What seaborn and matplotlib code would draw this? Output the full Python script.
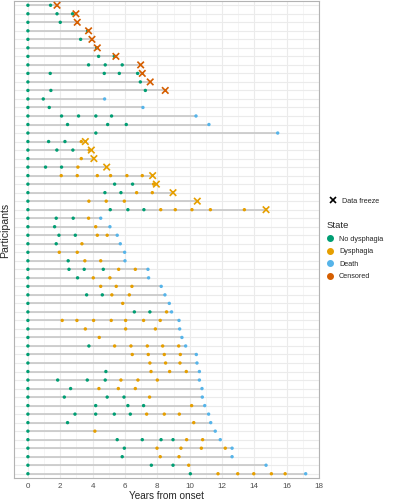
import pandas as pd
import matplotlib.pyplot as plt
import seaborn as sns
from matplotlib.lines import Line2D

# Visit times (years from onset) for each participant, top to bottom
times = [
    [0, 1.4], [0, 1.8, 2.76], [0, 2.0], [0, 3.69], [0, 3.26], [0, 4.25],
    [0, 4.37, 5.34], [0, 3.75, 4.78, 5.83], [0, 1.38, 4.72, 5.65, 6.78],
    [0, 6.95], [0, 1.42, 7.26], [0, 0.95, 4.74], [0, 1.32, 7.11],
    [0, 2.08, 3.13, 4.2, 5.17, 10.39], [0, 2.45, 4.93, 6.08, 11.19],
    [0, 4.2, 15.44], [0, 1.28, 2.29, 3.30], [0, 1.79, 2.78, 3.79], [0, 3.30],
    [0, 1.09, 2.08, 3.09], [0, 2.06, 3.05, 4.29, 5.11, 6.12, 7.07],
    [0, 5.36, 6.47, 7.77], [0, 4.76, 5.75, 6.72, 7.69], [0, 3.77, 4.84, 5.96],
    [0, 5.09, 6.18, 7.17, 8.21, 9.11, 10.14, 11.28, 13.38],
    [0, 1.75, 2.80, 3.75, 4.5], [0, 1.65, 4.19, 5.07],
    [0, 1.92, 2.93, 4.29, 4.9, 5.52], [0, 1.75, 3.34, 5.71],
    [0, 1.94, 3.05, 5.98], [0, 2.49, 3.52, 4.5, 6.0],
    [0, 2.54, 3.48, 4.66, 5.61, 6.64, 7.42], [0, 3.07, 4.04, 5.07, 7.46],
    [0, 4.5, 5.46, 6.43, 8.24], [0, 3.63, 4.6, 5.19, 6.27, 8.47],
    [0, 5.86, 8.74], [0, 6.58, 7.54, 8.57, 8.88],
    [0, 2.12, 3.03, 4.06, 5.15, 6.04, 7.15, 8.18, 9.34],
    [0, 3.55, 6.04, 7.88, 9.38], [0, 4.41, 9.52],
    [0, 3.77, 5.36, 6.37, 7.38, 8.33, 9.32, 9.75],
    [0, 6.45, 7.44, 8.43, 9.42, 10.41], [0, 7.54, 8.51, 9.4, 10.45],
    [0, 4.82, 7.61, 8.76, 9.79, 10.6],
    [0, 1.84, 3.67, 4.78, 5.75, 6.8, 8.0, 10.6],
    [0, 2.64, 4.39, 5.59, 6.64, 10.76], [0, 2.25, 4.9, 5.94, 7.52, 10.78],
    [0, 4.19, 6.18, 7.15, 10.12, 10.93],
    [0, 2.91, 4.19, 5.34, 6.33, 7.34, 8.43, 9.36, 11.17],
    [0, 2.45, 10.25, 11.3], [0, 4.14, 11.58],
    [0, 5.52, 7.07, 8.23, 8.97, 9.81, 10.8, 11.89],
    [0, 5.96, 7.98, 9.46, 10.72, 12.2, 12.62], [0, 5.83, 8.18, 9.34, 12.62],
    [0, 7.63, 8.97, 9.94, 14.72],
    [0, 10.04, 11.75, 12.97, 13.96, 15.05, 15.9, 17.17],
]

# State at each visit: N = no dysphagia, D = dysphagia, X = death
states = [
    "NN", "NNN", "NN", "NN", "NN", "NN", "NNN", "NNNN", "NNNNN", "NN", "NNN",
    "NNX", "NNX", "NNNNNX", "NNNNX", "NNX", "NNND", "NNND", "ND", "NNND",
    "NDDDDDD", "NNND", "NNNDD", "NDDD", "NNNNDDDDD", "NNNDX", "NNDX",
    "NNNDDX", "NNDX", "NDDX", "NNDDX", "NNNNDDX", "NNDDX", "NDDDX",
    "NNNDDX", "NDX", "NNNDX", "NDDDDDDDX", "NDDDX", "NDX", "NNDDDDDX",
    "NDDDDX", "NDDDX", "NNDDDX", "NNNNDDDX", "NNDDDX", "NNNNDX", "NNNNDX",
    "NNNNNDDDX", "NNDX", "NDX", "NNNNNDDX", "NNDDDDX", "NNDDX", "NNNDX",
    "NNDDDDDX",
]

# Data freeze (participant number, time, state colour)
freeze_id = [1, 2, 3, 4, 5, 6, 7, 8, 9, 10, 11,
             17, 18, 19, 20, 21, 22, 23, 24, 25]
freeze_time = [1.8, 2.97, 3.05, 3.75, 3.96, 4.29, 5.44, 6.97, 7.07, 7.56, 8.49,
               3.55, 3.92, 4.08, 4.87, 7.71, 7.94, 8.97, 10.47, 14.72]
freeze_state = ["Censored"] * 11 + ["Dysphagia"] * 9

state_names = {"N": "No dysphagia", "D": "Dysphagia", "X": "Death"}
state_order = ["No dysphagia", "Dysphagia", "Death", "Censored"]
palette = {"No dysphagia": "#009E73", "Dysphagia": "#E69F00",
           "Death": "#56B4E9", "Censored": "#D55E00"}

rows = []
for i, (t, s) in enumerate(zip(times, states)):
    for tt, ss in zip(t, s):
        rows.append({"id": i + 1, "time": tt, "state": state_names[ss]})
visits = pd.DataFrame(rows)
freeze = pd.DataFrame({"id": freeze_id, "time": freeze_time, "state": freeze_state})

ends = visits.groupby("id")["time"].max()
ends.update(freeze.set_index("id")["time"])

sns.set_style("white")
plt.rcParams["font.family"] = ["Liberation Sans", "DejaVu Sans"]

fig = plt.figure(figsize=(3.93, 5.0), dpi=100)
ax = fig.add_axes([0.036, 0.044, 0.776, 0.954])

ax.hlines(ends.index, 0, ends.values, color="#C8C8C8", lw=1.2, zorder=2)
sns.scatterplot(data=visits, x="time", y="id", hue="state", hue_order=state_order,
                palette=palette, s=6, linewidth=0, legend=False, ax=ax, zorder=3)
sns.scatterplot(data=freeze, x="time", y="id", hue="state", hue_order=state_order,
                palette=palette, marker="x", s=22, linewidth=1.2, legend=False,
                ax=ax, zorder=4)

ax.set_xlim(-0.85, 18)
ax.set_ylim(56.5, 0.5)
ax.set_xticks(range(0, 19, 2))
ax.set_xticks(range(1, 18, 2), minor=True)
ax.set_yticks(range(1, 57))
ax.set_yticklabels([])
ax.grid(which="major", color="#EBEBEB", lw=0.8, zorder=0)
ax.grid(which="minor", axis="x", color="#F4F4F4", lw=0.6, zorder=0)
ax.set_axisbelow(True)
ax.tick_params(axis="x", which="major", length=2.5, width=0.6, color="#B3B3B3",
               labelsize=5.8, labelcolor="#4D4D4D", pad=1)
ax.tick_params(axis="x", which="minor", length=0)
ax.tick_params(axis="y", length=0)
for sp in ax.spines.values():
    sp.set_color("#B3B3B3")
    sp.set_linewidth(0.8)
ax.set_xlabel("Years from onset", fontsize=7.2, labelpad=0.5)
ax.set_ylabel("Participants", fontsize=7.6)
ax.yaxis.set_label_coords(-0.012, 0.52)

# Legends
h1 = [Line2D([], [], marker="x", color="black", ls="", markersize=4.5, mew=1.2)]
fig.legend(h1, ["Data freeze"], loc="upper left", bbox_to_anchor=(0.822, 0.618),
           frameon=False, fontsize=5.2, handlelength=1, handletextpad=0.7)
h2 = [Line2D([], [], marker="o", color=palette[k], ls="", markersize=4) for k in state_order]
fig.legend(h2, state_order, title="State", loc="upper left",
           bbox_to_anchor=(0.815, 0.57), frameon=False, fontsize=5.2,
           title_fontsize=6.8, handlelength=1, handletextpad=0.7,
           labelspacing=0.75, alignment="left")

fig.savefig("out.png", dpi=100)
